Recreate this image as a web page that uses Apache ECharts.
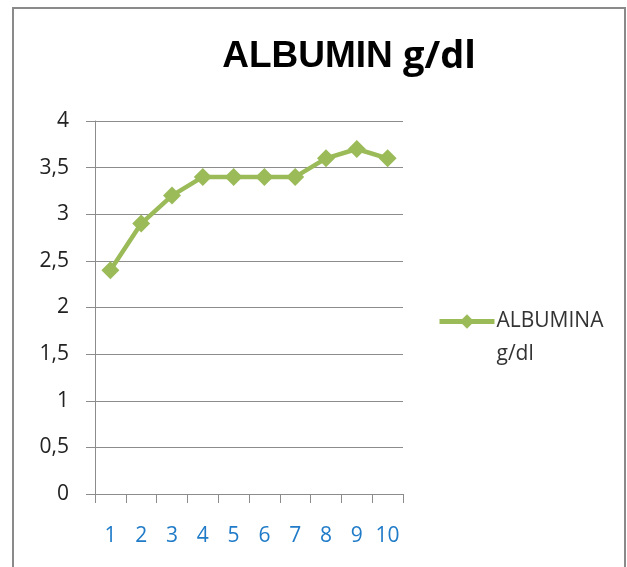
<!DOCTYPE html>
<html>
<head>
<meta charset="utf-8">
<script src="https://cdn.jsdelivr.net/npm/echarts@6/dist/echarts.min.js"></script>
<style>
  html, body { margin: 0; padding: 0; background: #fff; }
  #chart { width: 627px; height: 567px; }
</style>
</head>
<body>
<div id="chart"></div>
<script>
// Serum albumin over ten measurements
const categories = ['1', '2', '3', '4', '5', '6', '7', '8', '9', '10'];
const albuminValues = [2.4, 2.9, 3.2, 3.4, 3.4, 3.4, 3.4, 3.6, 3.7, 3.6];
const yTickLabels = ['0', '0,5', '1', '1,5', '2', '2,5', '3', '3,5', '4'];
const seriesName = 'ALBUMINA g/dl';

const green = '#9BBB59';
const chart = echarts.init(document.getElementById('chart'), null, { renderer: 'canvas' });

chart.setOption({
  backgroundColor: '#ffffff',
  animation: false,
  title: {
    text: '{a|ALBUMIN }{b|g/dl}',
    left: 344,
    textAlign: 'center',
    top: 33,
    textStyle: {
      rich: {
        a: { fontFamily: 'Liberation Sans', fontWeight: 'bold', fontSize: 37, color: '#000' },
        b: { fontFamily: 'Open Sans', fontWeight: 'bold', fontSize: 38, color: '#000' }
      }
    }
  },
  legend: {
    left: 432,
    top: 267,
    itemWidth: 55,
    itemHeight: 18,
    itemGap: 0,
    formatter: function (name) {
      const parts = name.split(' ');
      return ' \n' + parts[0] + '\n' + parts[1];
    },
    lineStyle: { width: 5, color: green },
    textStyle: {
      fontFamily: 'Open Sans',
      fontSize: 21,
      color: '#333',
      lineHeight: 33,
      padding: [0, 0, 0, -3]
    },
    data: [seriesName]
  },
  graphic: [
    {
      type: 'rect',
      shape: { x: 13, y: 8, width: 612, height: 600 },
      style: { fill: 'none', stroke: '#8a8a8a', lineWidth: 2 },
      silent: true
    }
  ],
  grid: { left: 95, right: 224, top: 121, bottom: 73, containLabel: false },
  xAxis: {
    type: 'category',
    data: categories,
    boundaryGap: true,
    axisLine: { show: true, lineStyle: { color: '#8c8c8c', width: 1 } },
    axisTick: { show: true, interval: 0, alignWithLabel: false, length: 9, lineStyle: { color: '#8c8c8c' } },
    axisLabel: {
      interval: 0,
      hideOverlap: false,
      margin: 32,
      fontFamily: 'Open Sans',
      fontSize: 21,
      color: '#1f7bc8'
    },
    splitLine: { show: false }
  },
  yAxis: {
    type: 'value',
    min: 0,
    max: 4,
    interval: 0.5,
    axisLine: { show: true, lineStyle: { color: '#8c8c8c', width: 1 } },
    axisTick: { show: true, length: 9, lineStyle: { color: '#8c8c8c' } },
    axisLabel: {
      margin: 26,
      fontFamily: 'Open Sans',
      fontSize: 21,
      color: '#222',
      formatter: function (v) { return yTickLabels[Math.round(v * 2)]; }
    },
    splitLine: { show: true, lineStyle: { color: '#8c8c8c', width: 1 } }
  },
  series: [
    {
      name: seriesName,
      type: 'line',
      data: albuminValues,
      symbol: 'diamond',
      symbolSize: 18,
      lineStyle: { color: green, width: 4.5 },
      itemStyle: { color: green },
      z: 3
    }
  ]
});
</script>
</body>
</html>
